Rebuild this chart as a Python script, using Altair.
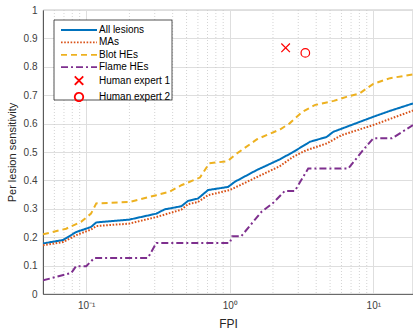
import altair as alt
import pandas as pd

# ---- data ----
fpi_all = [0.05, 0.069, 0.085, 0.108, 0.1175, 0.20, 0.308, 0.352, 0.46, 0.512, 0.60, 0.706,
           0.973, 1.084, 1.536, 2.23, 2.765, 3.62, 4.73, 5.26, 10.0, 13.1, 18.9]
sens_all = [0.178, 0.19, 0.218, 0.236, 0.252, 0.262, 0.283, 0.298, 0.309, 0.328, 0.336, 0.366,
            0.377, 0.395, 0.436, 0.474, 0.50, 0.536, 0.553, 0.571, 0.624, 0.645, 0.671]

fpi_ma = [0.05, 0.069, 0.085, 0.108, 0.1175, 0.20, 0.308, 0.46, 0.512, 0.60, 0.706, 1.0,
          2.23, 2.765, 3.4, 4.73, 6.0, 10.0, 18.9]
sens_ma = [0.172, 0.183, 0.207, 0.227, 0.239, 0.248, 0.271, 0.297, 0.316, 0.324, 0.348, 0.366,
           0.45, 0.483, 0.506, 0.53, 0.559, 0.595, 0.646]

fpi_blot = [0.05, 0.0725, 0.092, 0.108, 0.1175, 0.20, 0.308, 0.38, 0.46, 0.62, 0.72, 0.97,
            1.08, 1.55, 2.25, 2.6, 3.2, 3.9, 5.3, 6.5, 8.0, 10.0, 13.1, 18.9]
sens_blot = [0.21, 0.23, 0.254, 0.283, 0.319, 0.324, 0.348, 0.36, 0.383, 0.41, 0.46, 0.468,
             0.489, 0.545, 0.58, 0.6, 0.641, 0.665, 0.68, 0.694, 0.706, 0.74, 0.76, 0.773]

fpi_flame = [0.05, 0.0786, 0.085, 0.1, 0.114, 0.269, 0.308, 1.0, 1.04, 1.2, 1.66, 2.0,
             2.42, 2.84, 3.52, 6.7, 8.5, 10.0, 13.5, 18.9]
sens_flame = [0.048, 0.074, 0.098, 0.098, 0.127, 0.127, 0.18, 0.18, 0.203, 0.203, 0.289, 0.32,
              0.363, 0.363, 0.442, 0.442, 0.507, 0.548, 0.548, 0.595]

expert_names = ["Human expert 1", "Human expert 2"]
expert_fpi = [2.45, 3.36]
expert_sens = [0.867, 0.849]

series_names = ["All lesions", "MAs", "Blot HEs", "Flame HEs"]
series_colors = ["#0072BD", "#D95319", "#EDB120", "#7E2F8E"]
series_dashes = [[1, 0], [1.6, 1.6], [6, 4], [7, 3, 2, 3]]
expert_color = "#FF0000"

LINE_SYMBOL = "M-3,0H3"
X_SYMBOL = "M-0.7,-0.7L0.7,0.7L0,0L-0.7,0.7L0.7,-0.7"
O_SYMBOL = "M-0.7,0A0.7,0.7,0,1,0,0.7,0A0.7,0.7,0,1,0,-0.7,0Z"

x_major = [0.1, 1, 10]
x_minor = [0.06, 0.07, 0.08, 0.09, 0.2, 0.3, 0.4, 0.5, 0.6, 0.7, 0.8, 0.9,
           2, 3, 4, 5, 6, 7, 8, 9]
y_ticks = [0, 0.1, 0.2, 0.3, 0.4, 0.5, 0.6, 0.7, 0.8, 0.9, 1.0]

# ---- build tables ----
rows = []
for name, xs, ys in zip(series_names,
                        [fpi_all, fpi_ma, fpi_blot, fpi_flame],
                        [sens_all, sens_ma, sens_blot, sens_flame]):
    for i, (xv, yv) in enumerate(zip(xs, ys)):
        rows.append({"series": name, "fpi": xv, "sens": yv, "order": i})
lines_df = pd.DataFrame(rows)
experts_df = pd.DataFrame({"series": expert_names, "fpi": expert_fpi, "sens": expert_sens})
minor_df = pd.DataFrame({"fpi": x_minor})

all_names = series_names + expert_names
color_scale = alt.Scale(domain=all_names, range=series_colors + [expert_color, expert_color])
dash_scale = alt.Scale(domain=all_names, range=series_dashes + [[1, 0], [1, 0]])
shape_scale = alt.Scale(domain=all_names, range=[LINE_SYMBOL] * 4 + [X_SYMBOL, O_SYMBOL])

FONT = "Liberation Sans"
x_scale = alt.Scale(type="log", domain=[0.05, 18.9], nice=False)
y_scale = alt.Scale(domain=[0, 1], nice=False)

x_axis = alt.Axis(values=x_major, title="FPI", grid=True,
                  labelExpr="datum.value < 0.5 ? '10⁻¹' : datum.value < 5 ? '10⁰' : '10¹'")
y_axis = alt.Axis(values=y_ticks, format=".1~f", title="Per lesion sensitivity", grid=True,
                  labelOverlap=False)

legend = alt.Legend(
    title=None, orient="none", legendX=29, legendY=13, padding=0,
    symbolSize=144, symbolStrokeWidth=1.8, symbolFillColor="transparent",
    labelOffset=13, rowPadding=0.4, labelFont=FONT, labelFontSize=10,
    labelColor="#000000",
)

minor_grid = alt.Chart(minor_df).mark_rule(
    color="#C8C8C8", strokeWidth=0.8, strokeDash=[1, 2]
).encode(x=alt.X("fpi:Q", scale=x_scale, axis=x_axis))

lines = alt.Chart(lines_df).mark_line(strokeWidth=2, clip=True).encode(
    x=alt.X("fpi:Q", scale=x_scale, axis=x_axis),
    y=alt.Y("sens:Q", scale=y_scale, axis=y_axis),
    color=alt.Color("series:N", scale=color_scale, legend=legend),
    strokeDash=alt.StrokeDash("series:N", scale=dash_scale, legend=legend),
    strokeWidth=alt.condition(alt.datum.series == "All lesions", alt.value(2.5), alt.value(2)),
    order="order:Q",
)

points = alt.Chart(experts_df).mark_point(filled=False, strokeWidth=1.2, strokeJoin="bevel",
                                          size=150, opacity=1).encode(
    x=alt.X("fpi:Q", scale=x_scale, axis=x_axis),
    y=alt.Y("sens:Q", scale=y_scale, axis=y_axis),
    color=alt.Color("series:N", scale=color_scale, legend=legend),
    shape=alt.Shape("series:N", scale=shape_scale, legend=legend),
)

legend_box = alt.Chart(pd.DataFrame({"a": [0]})).mark_rect(
    fill="white", stroke="#262626", strokeWidth=0.8
).encode(x=alt.value(11), x2=alt.value(129), y=alt.value(10), y2=alt.value(90))

chart = alt.layer(minor_grid, legend_box, lines, points).properties(
    width=370, height=284,
    autosize=alt.AutoSizeParams(type="none"),
    padding={"left": 43, "top": 10, "right": 0, "bottom": 36},
).configure_view(
    stroke="#4D4D4D", strokeWidth=0.8
).configure_axis(
    domainColor="#4D4D4D", domainWidth=0.8, ticks=False,
    gridColor="#DEDEDE", gridWidth=1,
    labelFont=FONT, labelFontSize=10, labelColor="#404040",
    titleFont=FONT, titleFontWeight="normal", titleColor="#262626",
).configure_axisX(
    labelPadding=6, titleFontSize=12, titleY=29, titleBaseline="middle",
).configure_axisY(
    labelPadding=6, titleFontSize=11, titleX=-31, titleY=142, titleAngle=270,
    titleAlign="center", titleBaseline="middle",
)

chart.save("out.html", embed_options={"renderer": "svg", "actions": False})
